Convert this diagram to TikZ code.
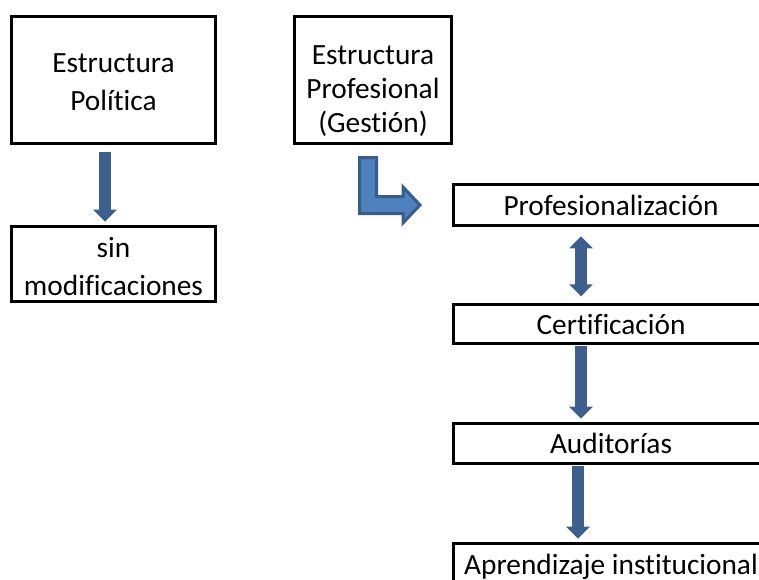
\documentclass[tikz,border=0pt]{standalone}
\usepackage{fontspec}
\setmainfont{Carlito}[Ligatures=NoCommon]
\usetikzlibrary{arrows.meta,calc}
\definecolor{flecha}{RGB}{60,95,142}
\definecolor{flechaclara}{RGB}{79,129,189}
\definecolor{bordeflecha}{RGB}{56,93,138}
\begin{document}
\begin{tikzpicture}[x=0.75pt, y=-0.75pt,
    caja/.style={draw=black, line width=2.3pt, rectangle, inner sep=0pt, align=center, font=\fontsize{22}{28}\selectfont},
    fila/.style={caja, minimum width=236.25pt, minimum height=30.75pt, text height=18pt, text depth=3pt},
    flechaazul/.style={draw=flecha, line width=8.6pt, -{Triangle[width=17.25pt,length=9pt]}},
    flechadoble/.style={draw=flecha, line width=8.6pt, {Triangle[width=17.25pt,length=9pt]}-{Triangle[width=17.25pt,length=9pt]}}]
    \useasboundingbox (0,0) rectangle (759,579);
    \clip (0,0) rectangle (759,579);
    % Cajas de la izquierda
    \node[caja, minimum width=153pt, minimum height=95.25pt, text height=45pt, text depth=0pt] (pol) at (113.5,80) {Estructura\\Política};
    \node[caja, minimum width=153pt, minimum height=56.25pt, text height=46.5pt, text depth=0pt] (sin) at (113.5,264) {sin\\modificaciones};
    \node[caja, minimum width=117.75pt, minimum height=95.25pt, text height=78pt, text depth=0pt, font=\fontsize{22}{25.5}\selectfont] (prof) at (373,80) {Estructura\\Profesional\\(Gestión)};
    % Cajas de la derecha (cortadas por el borde)
    \node[fila] (pzn) at (611,205) {Profesionalización};
    \node[fila, minimum height=29.25pt] (cert) at (611,324) {Certificación};
    \node[fila, minimum height=30pt] (aud) at (611,443.5) {Auditorías};
    \node[fila] (apr) at (611,564) {Aprendizaje institucional};
    % Ejes de las flechas
    \coordinate (ejeizq) at (105,0);
    \coordinate (ejeder) at (581,0);
    \coordinate (ejeder2) at (578,0);
    % Flechas
    \draw[flechaazul, shorten <=5pt, shorten >=2.5pt] (pol.south -| ejeizq) -- (sin.north -| ejeizq);
    \draw[flechadoble, shorten <=7pt, shorten >=5pt] (pzn.south -| ejeder) -- (cert.north -| ejeder);
    \draw[flechaazul, shorten <=1pt, shorten >=2.5pt] (cert.south -| ejeder) -- (aud.north -| ejeder);
    \draw[flechaazul, shorten <=1pt, shorten >=2.5pt] (aud.south -| ejeder2) -- (apr.north -| ejeder2);
    % Flecha doblada
    \filldraw[fill=flechaclara, draw=bordeflecha, line width=2.25pt, line join=miter]
        (359.5,157.5) -- (376.5,157.5) -- (376.5,196.5) -- (403,196.5) -- (403,187)
        -- (420,205) -- (403,223) -- (403,213.5) -- (359.5,213.5) -- cycle;
\end{tikzpicture}
\end{document}
